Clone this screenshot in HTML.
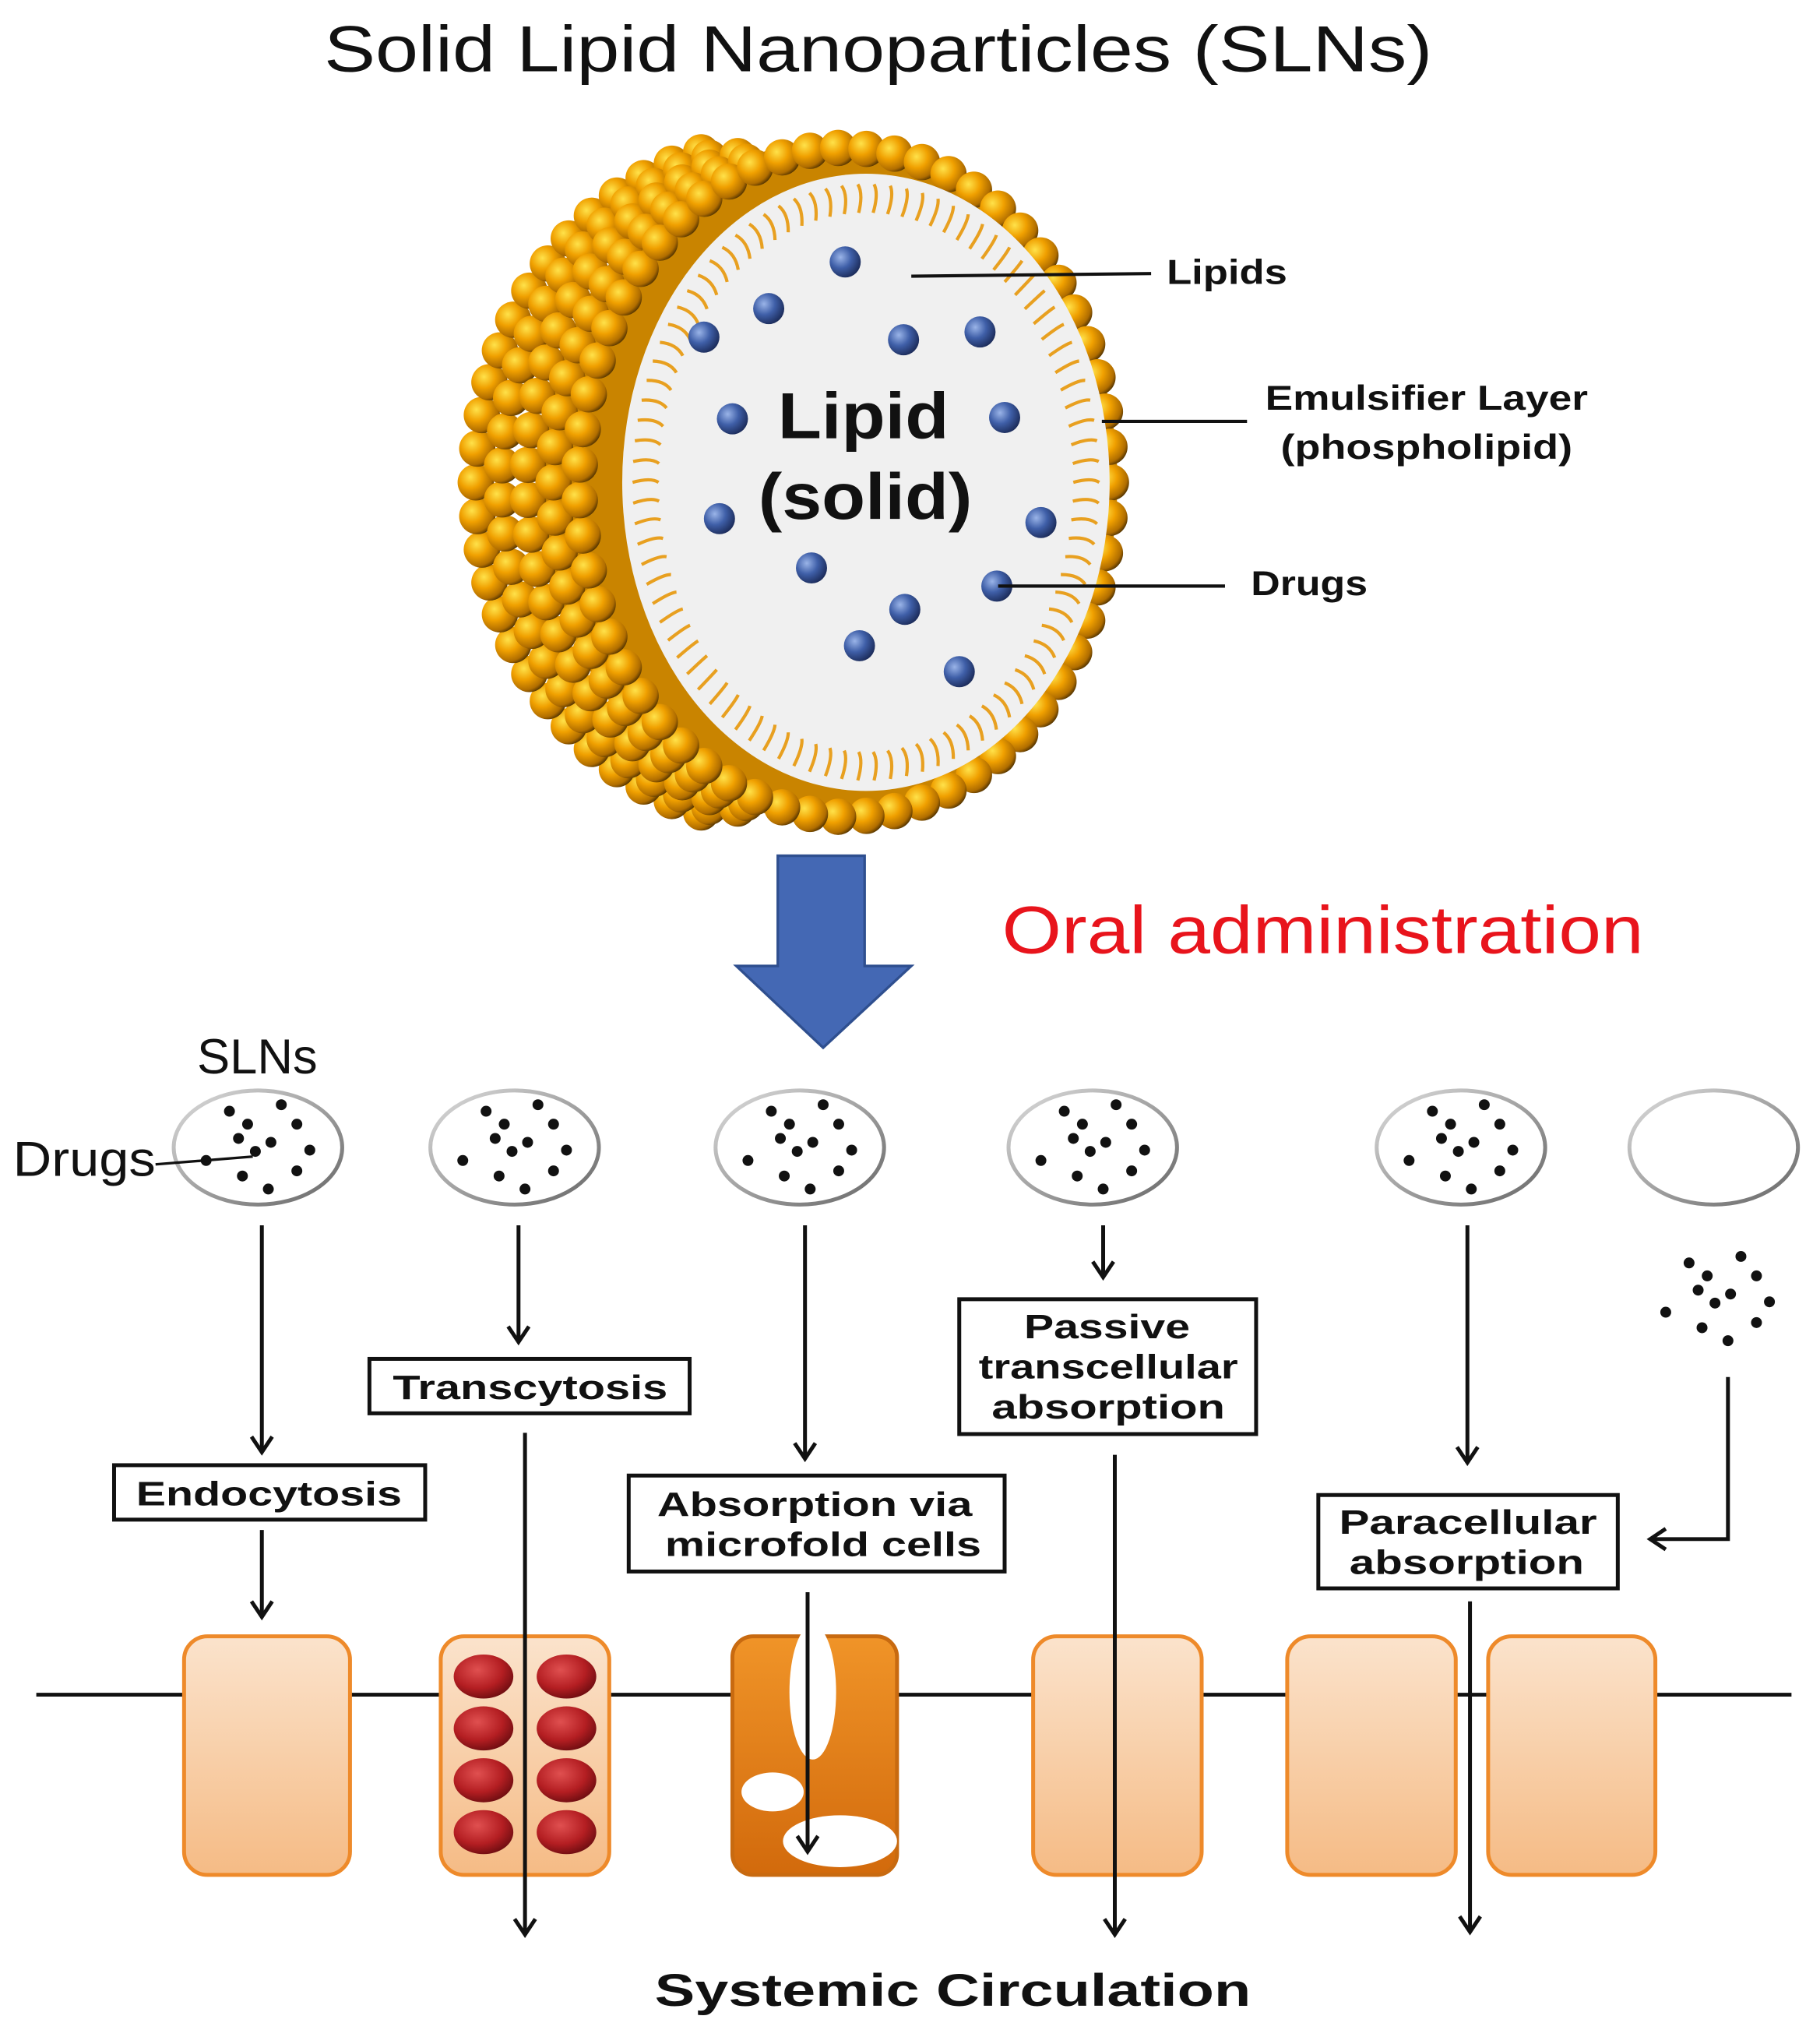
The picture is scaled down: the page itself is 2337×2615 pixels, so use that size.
<!DOCTYPE html>
<html><head><meta charset="utf-8"><style>
html,body{margin:0;padding:0;background:#fff;}
svg{display:block;}
text{font-family:"Liberation Sans",Arial,sans-serif;}
</style></head><body>
<svg id="s" width="2337" height="2615" viewBox="0 0 1404 1571" preserveAspectRatio="none" xmlns="http://www.w3.org/2000/svg">
<defs>
<radialGradient id="bead" cx="0.35" cy="0.35" r="0.7">
<stop offset="0" stop-color="#ffe24a"/><stop offset="0.45" stop-color="#f0a000"/><stop offset="0.85" stop-color="#b06d00"/><stop offset="1" stop-color="#5a3800"/></radialGradient>
<radialGradient id="blue" cx="0.35" cy="0.35" r="0.7">
<stop offset="0" stop-color="#9ab4e8"/><stop offset="0.5" stop-color="#3f5fa8"/><stop offset="1" stop-color="#1c2c5a"/></radialGradient>
<radialGradient id="red" cx="0.4" cy="0.35" r="0.7">
<stop offset="0" stop-color="#e05050"/><stop offset="0.6" stop-color="#b41e22"/><stop offset="1" stop-color="#6a0c10"/></radialGradient>
<linearGradient id="peach" x1="0" y1="0" x2="0" y2="1"><stop offset="0" stop-color="#fbe3cc"/><stop offset="1" stop-color="#f5bb85"/></linearGradient>
<linearGradient id="dor" x1="0" y1="0" x2="0" y2="1"><stop offset="0" stop-color="#f09428"/><stop offset="1" stop-color="#d26a0c"/></linearGradient>
<linearGradient id="rim" x1="0" y1="0" x2="1" y2="1"><stop offset="0" stop-color="#ddd"/><stop offset="1" stop-color="#666"/></linearGradient>
</defs>

<text x="250" y="55" font-size="50" textLength="855" lengthAdjust="spacingAndGlyphs" fill="#111">Solid Lipid Nanoparticles (SLNs)</text>

<g id="particle"></g>

<g fill="#111" font-weight="bold">
<text x="600" y="338" font-size="50" textLength="132" lengthAdjust="spacingAndGlyphs">Lipid</text>
<text x="585" y="400" font-size="50" textLength="165" lengthAdjust="spacingAndGlyphs">(solid)</text>
<text x="900" y="219" font-size="27" textLength="93" lengthAdjust="spacingAndGlyphs">Lipids</text>
<text x="976" y="316" font-size="27" textLength="249" lengthAdjust="spacingAndGlyphs">Emulsifier Layer</text>
<text x="988" y="354" font-size="27" textLength="225" lengthAdjust="spacingAndGlyphs">(phospholipid)</text>
<text x="965" y="459" font-size="27" textLength="90" lengthAdjust="spacingAndGlyphs">Drugs</text>
</g>
<g stroke="#111" stroke-width="2.5">
<line x1="703" y1="213" x2="888" y2="211"/>
<line x1="850" y1="325" x2="962" y2="325"/>
<line x1="770" y1="452" x2="945" y2="452"/>
</g>

<path d="M600,660 H667 V745 H703 L635,808 L568,745 H600 Z" fill="#4468b4" stroke="#2f4f8f" stroke-width="2"/>
<text x="773" y="735" font-size="52" textLength="495" lengthAdjust="spacingAndGlyphs" fill="#e8141c">Oral administration</text>

<text x="152" y="828" font-size="38" fill="#111">SLNs</text>
<text x="10" y="907" font-size="38" textLength="110" lengthAdjust="spacingAndGlyphs" fill="#111">Drugs</text>

<g id="small"></g>
<line x1="120" y1="898" x2="195" y2="892" stroke="#111" stroke-width="2"/>

<g stroke="#111" stroke-width="3" fill="#fff">
<rect x="88" y="1130" width="240" height="42"/>
<rect x="285" y="1048" width="247" height="42"/>
<rect x="485" y="1138" width="290" height="74"/>
<rect x="740" y="1002" width="229" height="104"/>
<rect x="1017" y="1153" width="231" height="72"/>
</g>
<g font-weight="bold" font-size="26" fill="#111" lengthAdjust="spacingAndGlyphs">
<text x="105" y="1161" textLength="205" lengthAdjust="spacingAndGlyphs">Endocytosis</text>
<text x="303" y="1079" textLength="212" lengthAdjust="spacingAndGlyphs">Transcytosis</text>
<text x="507" y="1169" textLength="243" lengthAdjust="spacingAndGlyphs">Absorption via</text>
<text x="513" y="1200" textLength="244" lengthAdjust="spacingAndGlyphs">microfold cells</text>
<text x="790" y="1032" textLength="128" lengthAdjust="spacingAndGlyphs">Passive</text>
<text x="755" y="1063" textLength="200" lengthAdjust="spacingAndGlyphs">transcellular</text>
<text x="765" y="1094" textLength="180" lengthAdjust="spacingAndGlyphs">absorption</text>
<text x="1033" y="1183" textLength="199" lengthAdjust="spacingAndGlyphs">Paracellular</text>
<text x="1041" y="1214" textLength="181" lengthAdjust="spacingAndGlyphs">absorption</text>
</g>

<line x1="28" y1="1307" x2="1382" y2="1307" stroke="#111" stroke-width="3"/>
<g stroke="#ee8a2a" stroke-width="3">
<rect x="142" y="1262" width="128" height="184" rx="18" fill="url(#peach)"/>
<rect x="340" y="1262" width="130" height="184" rx="18" fill="url(#peach)"/>
<rect x="565" y="1262" width="127" height="184" rx="16" fill="url(#dor)" stroke="#c86a10"/>
<rect x="797" y="1262" width="130" height="184" rx="18" fill="url(#peach)"/>
<rect x="993" y="1262" width="130" height="184" rx="18" fill="url(#peach)"/>
<rect x="1148" y="1262" width="129" height="184" rx="18" fill="url(#peach)"/>
</g>
<g fill="url(#red)">
<ellipse cx="373" cy="1293" rx="23" ry="17"/><ellipse cx="437" cy="1293" rx="23" ry="17"/>
<ellipse cx="373" cy="1333" rx="23" ry="17"/><ellipse cx="437" cy="1333" rx="23" ry="17"/>
<ellipse cx="373" cy="1373" rx="23" ry="17"/><ellipse cx="437" cy="1373" rx="23" ry="17"/>
<ellipse cx="373" cy="1413" rx="23" ry="17"/><ellipse cx="437" cy="1413" rx="23" ry="17"/>
</g>
<g fill="#fff">
<ellipse cx="627" cy="1305" rx="18" ry="52"/>
<ellipse cx="596" cy="1382" rx="24" ry="15"/>
<ellipse cx="648" cy="1420" rx="44" ry="20"/>
</g>

<g id="arrows" stroke="#111" stroke-width="3" fill="none"></g>

<text x="505" y="1547" font-size="35" font-weight="bold" textLength="460" lengthAdjust="spacingAndGlyphs" fill="#111">Systemic Circulation</text>
</svg>
<script>
var NS="http://www.w3.org/2000/svg";
function el(p,t,a){var e=document.createElementNS(NS,t);for(var k in a)e.setAttribute(k,a[k]);p.appendChild(e);return e;}
var P=document.getElementById('particle');
el(P,'ellipse',{cx:640,cy:372,rx:222,ry:262,fill:'#c98400'});
for(var k=4;k>=0;k--){
  var cx=652-k*10, rx=205+k*10, ry=258+k*2;
  var n=Math.round(2*Math.PI*Math.sqrt((rx*rx+ry*ry)/2)/25);
  for(var i=0;i<n;i++){
    var a=i/n*2*Math.PI, c=Math.cos(a);
    if(k>0 && c>-0.25) continue;
    el(P,'circle',{cx:cx+rx*c,cy:372+ry*Math.sin(a),r:14,fill:'url(#bead)'});
  }
}
el(P,'ellipse',{cx:668,cy:372,rx:188,ry:238,fill:'#f0f0f0'});
for(var i=0;i<90;i++){
  var a=i/90*2*Math.PI, x=668+180*Math.cos(a), y=372+230*Math.sin(a);
  var x2=668+160*Math.cos(a), y2=372+208*Math.sin(a);
  el(P,'path',{d:'M'+x+','+y+' Q'+((x+x2)/2+4)+','+((y+y2)/2-4)+' '+x2+','+y2,stroke:'#e8a020','stroke-width':2.5,fill:'none'});
}
var dr=[[652,202],[593,238],[543,260],[697,262],[756,256],[565,323],[775,322],[555,400],[803,403],[626,438],[769,452],[698,470],[663,498],[740,518]];
dr.forEach(function(d){el(P,'circle',{cx:d[0],cy:d[1],r:12,fill:'url(#blue)'});});

var S=document.getElementById('small');
var dots=[[-22,-28],[18,-33],[-8,-18],[30,-18],[-15,-7],[10,-4],[-2,3],[40,2],[-40,10],[30,18],[-12,22],[8,32]];
[[199,885],[397,885],[617,885],[843,885],[1127,885],[1322,885]].forEach(function(p,j){
  el(S,'ellipse',{cx:p[0],cy:p[1],rx:65,ry:44,fill:'#fff',stroke:'url(#rim)','stroke-width':3});
  if(j<5) dots.forEach(function(d){el(S,'circle',{cx:p[0]+d[0],cy:p[1]+d[1],r:4.2,fill:'#111'});});
});
dots.forEach(function(d){el(S,'circle',{cx:1325+d[0],cy:1002+d[1],r:4.2,fill:'#111'});});

var A=document.getElementById('arrows');
function va(x,y1,y2){el(A,'line',{x1:x,y1:y1,x2:x,y2:y2});el(A,'path',{d:'M'+(x-8)+','+(y2-12)+' L'+x+','+y2+' L'+(x+8)+','+(y2-12)});}
va(202,945,1120);va(202,1180,1247);
va(400,945,1035);va(405,1105,1492);
va(621,945,1125);va(623,1228,1428);
va(851,945,985);va(860,1122,1492);
va(1132,945,1128);va(1134,1235,1490);
el(A,'path',{d:'M1333,1062 V1187 H1273'});
el(A,'path',{d:'M1285,1179 L1273,1187 L1285,1195'});
</script>
</body></html>
